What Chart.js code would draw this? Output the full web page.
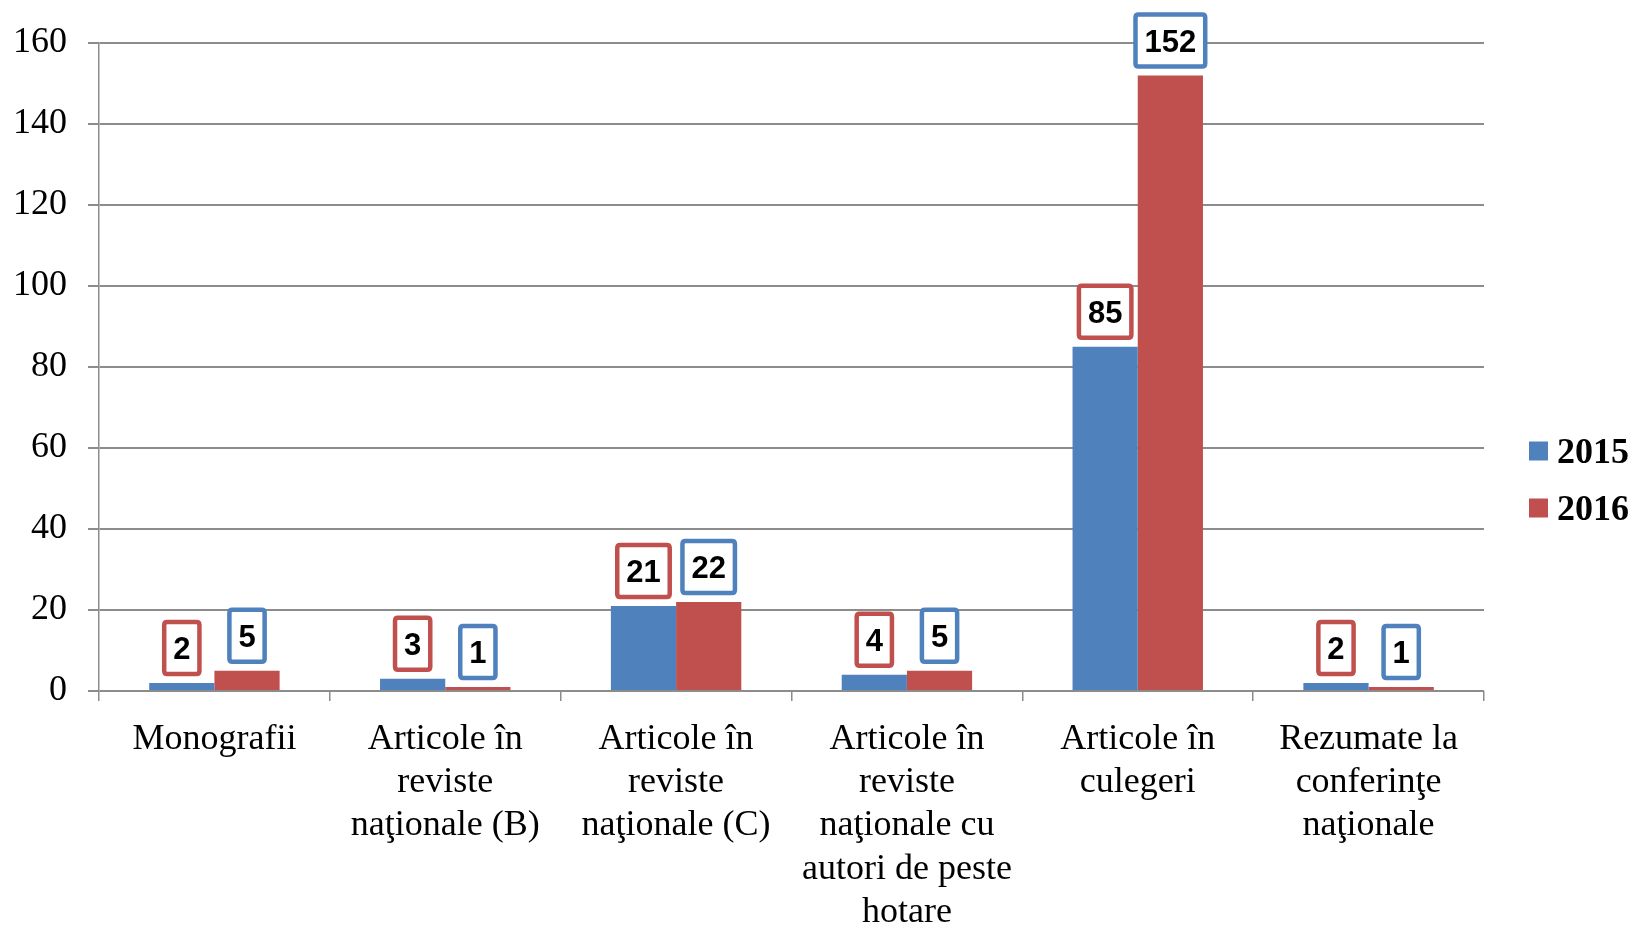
<!DOCTYPE html>
<html>
<head>
<meta charset="utf-8">
<script src="https://cdn.jsdelivr.net/npm/chart.js@4.4.1/dist/chart.umd.min.js"></script>
<style>
  html, body { margin: 0; padding: 0; background: #fff; }
  #wrap { width: 1634px; height: 926px; }
</style>
</head>
<body>
<div id="wrap"><canvas id="c" width="1634" height="926"></canvas></div>
<script>
// ---- data ----
const categories = [
  ["Monografii"],
  ["Articole în", "reviste", "naţionale (B)"],
  ["Articole în", "reviste", "naţionale (C)"],
  ["Articole în", "reviste", "naţionale cu", "autori de peste", "hotare"],
  ["Articole în", "culegeri"],
  ["Rezumate la", "conferinţe", "naţionale"]
];
const seriesNames = ["2015", "2016"];
const values2015 = [2, 3, 21, 4, 85, 2];
const values2016 = [5, 1, 22, 5, 152, 1];
const yTicks = [0, 20, 40, 60, 80, 100, 120, 140, 160];

const BLUE = "#4F81BD", RED = "#C0504D", GRID = "#8c8c8c";
const serif = "'Liberation Serif', 'Times New Roman', serif";

function boxPath(ctx, x, y, w, h, r) {
  ctx.beginPath();
  ctx.moveTo(x + r, y);
  ctx.lineTo(x + w - r, y); ctx.quadraticCurveTo(x + w, y, x + w, y + r);
  ctx.lineTo(x + w, y + h - r); ctx.quadraticCurveTo(x + w, y + h, x + w - r, y + h);
  ctx.lineTo(x + r, y + h); ctx.quadraticCurveTo(x, y + h, x, y + h - r);
  ctx.lineTo(x, y + r); ctx.quadraticCurveTo(x, y, x + r, y);
  ctx.closePath();
}

// boxed value labels above bars (2015 boxes red, 2016 boxes blue, like the original)
const boxedLabels = {
  id: "boxedLabels",
  afterDatasetsDraw(chart) {
    const ctx = chart.ctx;
    const borders = [RED, BLUE];
    ctx.save();
    ctx.font = "bold 31px 'Liberation Sans', Arial, sans-serif";
    ctx.textAlign = "center";
    ctx.textBaseline = "middle";
    chart.data.datasets.forEach((ds, di) => {
      chart.getDatasetMeta(di).data.forEach((bar, i) => {
        const txt = String(ds.data[i]);
        const w = ctx.measureText(txt).width + 22;
        const h = 56;
        const bx = bar.x - w / 2, by = bar.y - 7 - h;
        boxPath(ctx, bx + 2, by + 2, w - 4, h - 4, 3);
        ctx.fillStyle = "#fff";
        ctx.fill();
        ctx.lineWidth = 4.5;
        ctx.strokeStyle = borders[di];
        ctx.stroke();
        ctx.fillStyle = "#000";
        ctx.fillText(txt, bar.x, by + h / 2 + 3);
      });
    });
    ctx.restore();
  }
};

// legend on the right
const sideLegend = {
  id: "sideLegend",
  afterDraw(chart) {
    const ctx = chart.ctx;
    ctx.save();
    ctx.font = "bold 36px " + serif;
    ctx.textBaseline = "middle";
    ctx.textAlign = "left";
    chart.data.datasets.forEach((ds, i) => {
      const cy = 451 + i * 57;
      ctx.fillStyle = ds.backgroundColor;
      ctx.fillRect(1529, cy - 9.5, 19, 19);
      ctx.fillStyle = "#000";
      ctx.fillText(ds.label, 1557, cy + 3);
    });
    ctx.restore();
  }
};

new Chart(document.getElementById("c"), {
  type: "bar",
  data: {
    labels: categories,
    datasets: [
      { label: seriesNames[0], data: values2015, backgroundColor: BLUE, borderWidth: 0 },
      { label: seriesNames[1], data: values2016, backgroundColor: RED, borderWidth: 0 }
    ]
  },
  options: {
    responsive: false,
    animation: false,
    layout: { padding: { top: 43, right: 150, left: 0, bottom: 0 } },
    datasets: { bar: { categoryPercentage: 0.565, barPercentage: 1 } },
    plugins: { legend: { display: false }, tooltip: { enabled: false } },
    scales: {
      x: {
        grid: { offset: true, drawOnChartArea: false, color: GRID, lineWidth: 1.5, tickLength: 10 },
        border: { display: false },
        ticks: { color: "#000", font: { family: serif, size: 36, lineHeight: 1.2 }, padding: 17, maxRotation: 0, autoSkip: false },
        afterFit(s) { s.height = 235; }
      },
      y: {
        min: 0, max: 160,
        afterBuildTicks(s) { s.ticks = yTicks.map(v => ({ value: v })); },
        grid: { color: GRID, lineWidth: 2, tickLength: 11 },
        border: { color: GRID, width: 1.5 },
        ticks: { color: "#000", font: { family: serif, size: 36 }, padding: 21 },
        afterFit(s) { s.width = 99; }
      }
    }
  },
  plugins: [boxedLabels, sideLegend]
});
</script>
</body>
</html>
